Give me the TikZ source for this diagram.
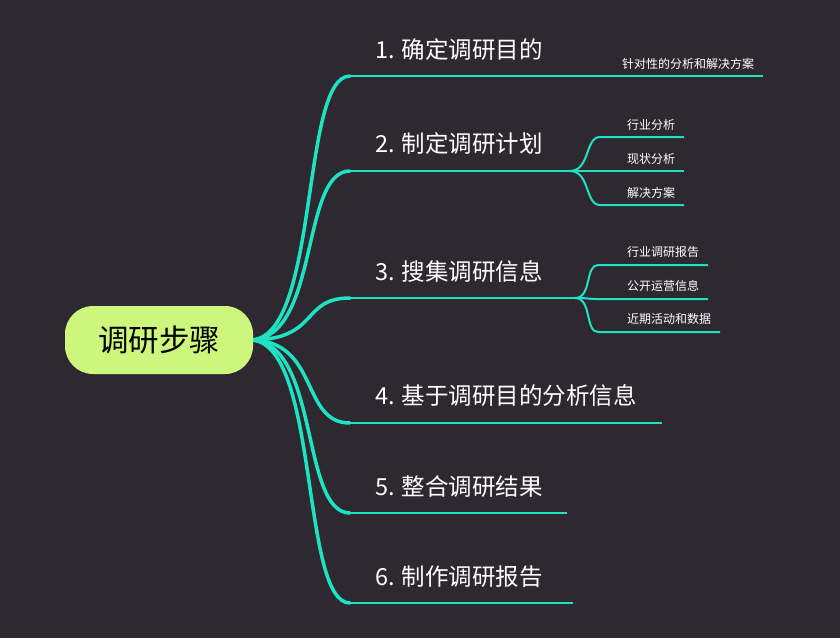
\documentclass[tikz,border=0pt]{standalone}
\usepackage{fontspec}
\setmainfont{Noto Sans CJK SC}
\begin{document}
\begin{tikzpicture}[x=1pt,y=-1pt,
  br/.style={draw=teal1,line width=3.5pt,line cap=round},
  ul/.style={draw=teal1,line width=2.2pt},
  sb/.style={draw=teal1,line width=2pt},
  mt/.style={anchor=base west,text=white,font=\fontsize{23.5}{23.5}\selectfont,inner sep=0},
  st/.style={anchor=base west,text=white,font=\fontsize{12}{12}\selectfont,inner sep=0}]
\definecolor{teal1}{HTML}{1DE3C4}
\definecolor{bg}{HTML}{2E2930}
\definecolor{rootc}{HTML}{CCF77C}
\fill[bg] (0,0) rectangle (840,638);
\useasboundingbox (0,0) rectangle (840,638);
\coordinate (r) at (250,340);
\foreach \y/\xe [count=\i] in {76/763,171/570,298/575,423/662,513/567,603/573}{
  \coordinate (s\i) at (350,\y);
  \coordinate (e\i) at (\xe,\y);
  \draw[br] (r) .. controls (320,340) and (300,\y) .. (s\i);
  \draw[ul] (s\i) -- (e\i);
}
\node[draw=none,fill=rootc,rounded corners=28pt,minimum width=188pt,minimum height=68pt,font=\fontsize{30.5}{30.5}\selectfont] (root) at (159,340) {调研步骤};
\node[mt] (t1) at (375,58) {1. 确定调研目的};
\node[mt] (t2) at (375,152) {2. 制定调研计划};
\node[mt] (t3) at (375,280) {3. 搜集调研信息};
\node[mt] (t4) at (375,404) {4. 基于调研目的分析信息};
\node[mt] (t5) at (375,495) {5. 整合调研结果};
\node[mt] (t6) at (375,585) {6. 制作调研报告};
\node[st] (u1) at (622,68) {针对性的分析和解决方案};
\foreach \y/\xe/\txt [count=\j] in {137/684/行业分析,171/684/现状分析,205/684/解决方案}{
  \coordinate (a\j) at (600,\y); \coordinate (b\j) at (\xe,\y);
  \draw[sb] (e2) .. controls (590,171) and (585,\y) .. (a\j) -- (b\j);
  \node[st] (v\j) at (627,\y-8) {\txt};
}
\foreach \y/\xe/\txt [count=\j] in {265/708/行业调研报告,299/708/公开运营信息,332/720/近期活动和数据}{
  \coordinate (c\j) at (598,\y); \coordinate (d\j) at (\xe,\y);
  \draw[sb] (e3) .. controls (592,298) and (585,\y) .. (c\j) -- (d\j);
  \node[st] (w\j) at (627,\y-9) {\txt};
}
\end{tikzpicture}
\end{document}
